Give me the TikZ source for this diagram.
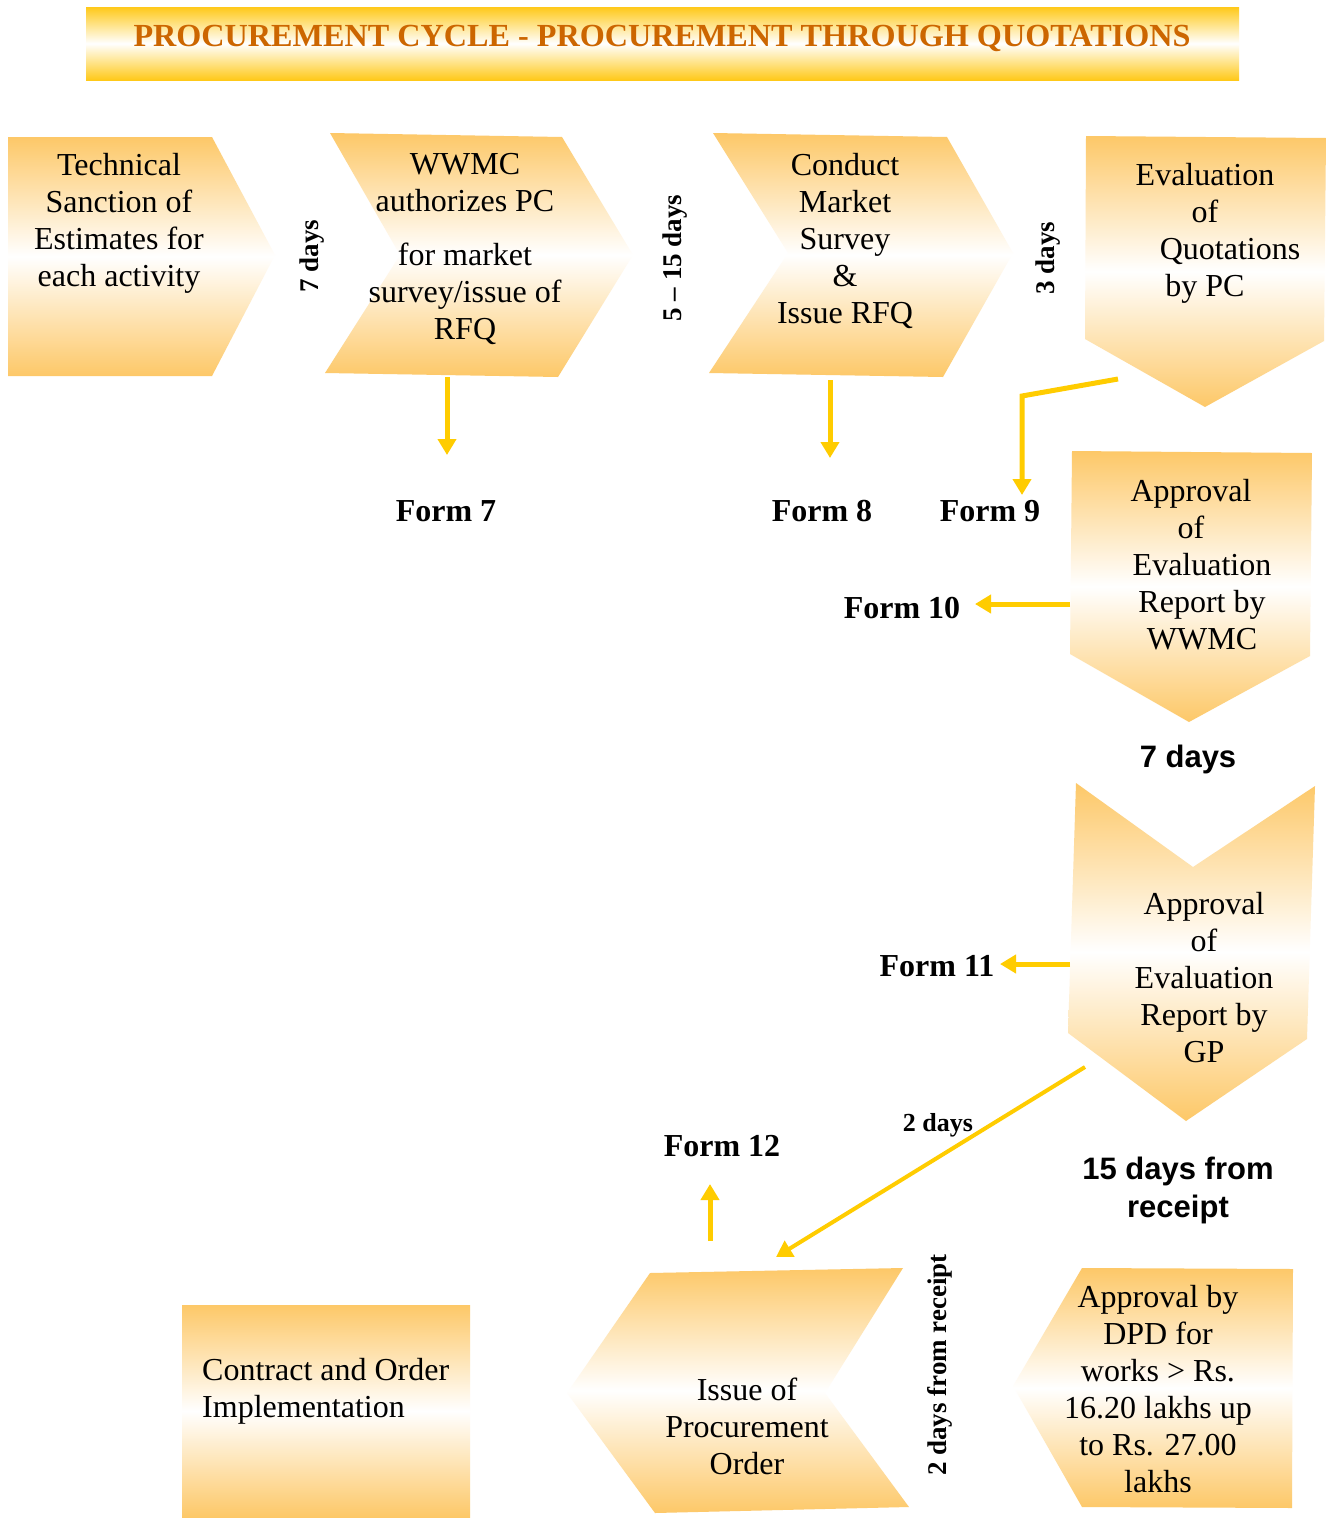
\documentclass[tikz,border=0pt]{standalone}
\usepackage{fontspec}
\setmainfont{Liberation Serif}
\newfontfamily\labelsans{Liberation Sans}
\usetikzlibrary{arrows.meta}
\definecolor{peach}{RGB}{253,200,104}
\definecolor{banner}{RGB}{255,201,25}
\definecolor{flowgold}{RGB}{255,204,0}
\definecolor{titlebrown}{RGB}{204,102,0}

\begin{document}
\begin{tikzpicture}[x=1pt,y=-1pt,
  stage/.style={top color=peach,bottom color=peach,middle color=white,draw=none},
  stagetext/.style={inner sep=0pt,align=center,font=\fontsize{32}{37}\selectfont},
  formlabel/.style={inner sep=0pt,font=\fontsize{32}{38}\selectfont\bfseries},
  durlabel/.style={inner sep=0pt,rotate=90,font=\fontsize{27}{32}\selectfont\bfseries},
  sanslabel/.style={inner sep=0pt,align=center,font=\labelsans\fontsize{31}{38}\selectfont\bfseries},
  flow/.style={draw=flowgold,line width=5pt,-{Triangle[width=18pt,length=16pt]}},
]
\useasboundingbox[fill=white] (0,0) rectangle (1328,1518);

% title banner
\path[top color=banner,bottom color=banner,middle color=white] (86,7) rectangle (1239,80);
\node[inner sep=0pt,text=titlebrown,font=\fontsize{32.2}{38}\selectfont\bfseries] (title) at (662,38)
  {PROCUREMENT CYCLE - PROCUREMENT THROUGH QUOTATIONS};

% stage shapes
\path[stage] (8,137) -- (212,137) -- (275,255) -- (212,376) -- (8,376) -- cycle;
\path[stage] (330,133) -- (562,137) -- (633,255) -- (558,377) -- (325,373) -- (400,255) -- cycle;
\path[stage] (713,133) -- (947,137) -- (1013,253) -- (943,377) -- (709,373) -- (788,253) -- cycle;
\path[stage] (1086,136) -- (1326,138) -- (1324,341) -- (1205,407) -- (1085,339) -- cycle;
\path[stage] (1072,451) -- (1312,453) -- (1310,656) -- (1189,722) -- (1070,654) -- cycle;
\path[stage] (1076,783) -- (1193,867) -- (1315,786) -- (1307,1039) -- (1186,1121) -- (1068,1033) -- cycle;
\path[stage] (650,1273) -- (903,1268) -- (825,1393) -- (909,1507) -- (655,1513) -- (567,1393) -- cycle;
\path[stage] (1082,1268) -- (1293,1269) -- (1292,1508) -- (1082,1507) -- (1013,1386) -- cycle;
\path[stage] (182,1305) rectangle (470,1517);

% stage texts
\node[stagetext] (sanction) at (119,223) {Technical\\Sanction of\\Estimates for\\each activity};
\node[stagetext] (authorize) at (465,249) {WWMC\\authorizes PC\\[17pt]for market\\survey/issue of\\RFQ};
\node[stagetext] (survey) at (845,241) {Conduct\\Market\\Survey\\\&\\Issue RFQ};
\node[stagetext] (evaluate) at (1205,233) {Evaluation\\of\\\hspace*{50pt}Quotations\\by PC};
\node[stagetext] (wwmc) at (1202,565) {Approval\kern22pt\null\\of\kern22pt\null\\Evaluation\\Report by\\WWMC};
\node[stagetext] (gp) at (1204,978) {Approval\\of\\Evaluation\\Report by\\GP};
\node[stagetext] (order) at (747,1426) {Issue of\\Procurement\\Order};
\node[stagetext] (dpd) at (1158,1389) {Approval by\\DPD for\\works > Rs.\\16.20 lakhs up\\to Rs. 27.00\\lakhs};
\node[stagetext,align=left,anchor=west] (contract) at (202,1391) {Contract and Order\\Implementation};

% durations
\node[durlabel] (d1) at (312,256) {7 days};
\node[durlabel] (d2) at (675,258) {5 – 15 days};
\node[durlabel] (d3) at (1048,258) {3 days};
\node[durlabel] (d4) at (940,1365) {2 days from receipt};
\node[sanslabel] (d5) at (1188,759) {7 days};
\node[sanslabel] (d6) at (1178,1190) {15 days from\\receipt};
\node[inner sep=0pt,font=\fontsize{26}{30}\selectfont\bfseries] (d7) at (938,1125) {2 days};

% form labels
\node[formlabel] (f7) at (446,511) {Form 7};
\node[formlabel] (f8) at (822,511) {Form 8};
\node[formlabel] (f9) at (990,511) {Form 9};
\node[formlabel] (f10) at (902,608) {Form 10};
\node[formlabel] (f11) at (937,966) {Form 11};
\node[formlabel] (f12) at (722,1146) {Form 12};

% connector ends
\coordinate (authorizeOut) at (447,377);
\coordinate (f7In) at (447,455);
\coordinate (surveyOut) at (830,380);
\coordinate (f8In) at (830,458);
\coordinate (evaluateOut) at (1118,379);
\coordinate (bend) at (1022,396);
\coordinate (f9In) at (1022,495);
\coordinate (wwmcOut) at (1070,604);
\coordinate (f10In) at (975,604);
\coordinate (gpOut) at (1070,964);
\coordinate (f11In) at (1000,964);
\coordinate (gpDown) at (1085,1067);
\coordinate (orderIn) at (776,1257);
\coordinate (orderOut) at (710,1241);
\coordinate (f12In) at (710,1184);

% connectors
\draw[flow] (authorizeOut) -- (f7In);
\draw[flow] (surveyOut) -- (f8In);
\draw[flow] (evaluateOut) -- (bend) -- (f9In);
\draw[flow] (wwmcOut) -- (f10In);
\draw[flow] (gpOut) -- (f11In);
\draw[flow,line width=4pt] (gpDown) -- (orderIn);
\draw[flow] (orderOut) -- (f12In);
\end{tikzpicture}
\end{document}
